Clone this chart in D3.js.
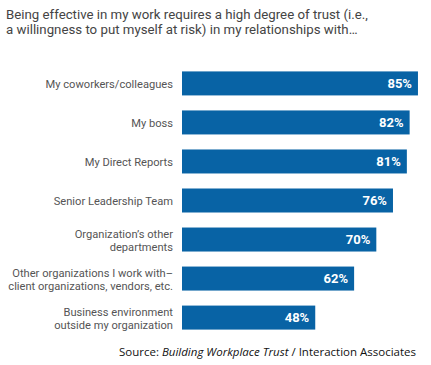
<!DOCTYPE html>
<html><head><meta charset="utf-8">
<script src="https://cdn.jsdelivr.net/npm/d3@7"></script>
<style>body{margin:0;background:#fff}svg{display:block}</style>
</head><body>
<script>
const categories = [
  ["My coworkers/colleagues"],
  ["My boss"],
  ["My Direct Reports"],
  ["Senior Leadership Team"],
  ["Organization\u2019s other", "departments"],
  ["Other organizations I work with\u2013", "client organizations, vendors, etc."],
  ["Business environment", "outside my organization"]
];
const values = [85, 82, 81, 76, 70, 62, 48];
const titleLines = ["Being effective in my work requires a high degree of trust (i.e.,", "a willingness to put myself at risk) in my relationships with\u2026"];

const W = 431, H = 365;
const svg = d3.select("body").append("svg").attr("width", W).attr("height", H);
const x = d3.scaleLinear().domain([0, 100]).range([182, 459.6]);
const y = d3.scaleBand().domain(d3.range(values.length)).range([64, 337]).paddingInner(0.385).paddingOuter(0.19);

function fitSize(sel, target, base) {
  let maxW = 0;
  sel.each(function() { maxW = Math.max(maxW, this.getComputedTextLength()); });
  return base * target / maxW;
}

const title = svg.append("g").selectAll("text").data(titleLines).join("text")
  .attr("x", 6).attr("y", (d, i) => 19 + i * 14.5)
  .attr("font-family", "Roboto, sans-serif").attr("font-size", 14).attr("fill", "#444")
  .text(d => d);
title.attr("font-size", fitSize(title, 362, 14));

const g = svg.append("g");
g.selectAll("rect").data(values).join("rect")
  .attr("x", x(0)).attr("y", (d, i) => y(i))
  .attr("width", d => x(d) - x(0)).attr("height", y.bandwidth())
  .attr("fill", "#0863a5");

g.selectAll("text.val").data(values).join("text").attr("class", "val")
  .attr("x", d => x(d) - 6).attr("y", (d, i) => y(i) + y.bandwidth() / 2 + 4.5)
  .attr("text-anchor", "end").attr("font-family", "Roboto, sans-serif").attr("font-weight", "bold")
  .attr("font-size", 13).attr("fill", "#fff").text(d => d + "%");

const lab = g.selectAll("text.cat").data(categories).join("text").attr("class", "cat")
  .attr("text-anchor", "end").attr("font-family", "Roboto, sans-serif")
  .attr("font-size", 12).attr("fill", "#555");
lab.each(function(lines, i) {
  const t = d3.select(this);
  const cy = y(i) + y.bandwidth() / 2;
  lines.forEach((l, j) => {
    t.append("tspan").attr("x", 173).attr("y", cy + 4.5 + (j - (lines.length - 1) / 2) * 13).text(l);
  });
});
const spans = lab.selectAll("tspan");
let maxW = 0;
spans.each(function() { maxW = Math.max(maxW, this.getComputedTextLength()); });
lab.attr("font-size", 12 * 165 / maxW);

const src = svg.append("text").attr("x", 416).attr("y", 356).attr("text-anchor", "end")
  .attr("font-family", "'Open Sans', sans-serif").attr("font-size", 11.5).attr("fill", "#111");
src.append("tspan").text("Source: ");
src.append("tspan").attr("font-style", "italic").text("Building Workplace Trust");
src.append("tspan").text(" / Interaction Associates");
</script>
</body></html>
